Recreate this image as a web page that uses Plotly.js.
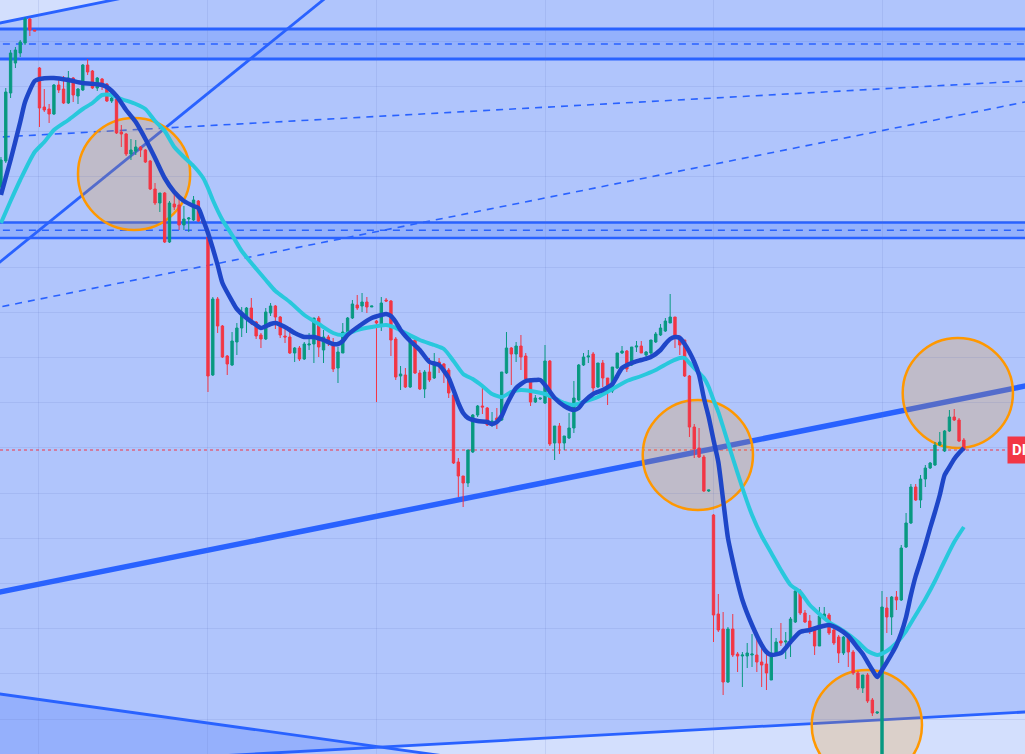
<!DOCTYPE html>
<html>
<head>
<meta charset="utf-8">
<script src="https://cdn.plot.ly/plotly-3.0.1.min.js"></script>
<style>
  html, body { margin: 0; padding: 0; overflow: hidden; background: #b0c5fc; }
</style>
</head>
<body>
<div id="chart" style="width:1025px;height:754px"></div>
<script>
// Candles (bar index = position in the arrays)
var opens = [567,593,661,691,701,711,735,724,686,647,645,640,669,665,651,676,658,664,689,683,
  666,675,670,653,655,622,620,600,603,607,604,593,565,551,561,512,550,549,529,535,
  534,553,533,517,379,455,428,398,389,412,426,437,446,432,419,415,441,448,437,418,
  417,401,406,395,409,410,436,404,417,411,386,401,422,436,449,448,452,447,433,429,
  454,453,415,378,379,367,414,381,365,382,376,392,390,384,359,292,278,271,302,339,
  348,346,329,336,334,381,406,400,408,398,375,352,355,351,393,311,328,311,316,326,
  354,389,397,400,367,391,376,363,386,401,403,389,407,408,399,401,412,419,423,431,
  437,416,414,378,327,306,297,263,239,140,125,72,125,100,98,98,99,99,92,90,
  74,101,113,112,114,132,163,141,133,126,108,137,139,124,117,101,117,102,81,66,
  79,54,41,-16,146,137,157,154,207,231,267,254,275,286,289,309,303,323,337,334,314];
var highs = [597,666,704,707,714,737,736,724,687,665,650,670,676,678,683,677,666,690,695,684,
  677,676,671,659,656,629,621,615,614,608,605,594,571,561,562,553,564,559,548,537,
  558,554,534,518,457,457,429,399,422,431,447,447,456,433,421,446,451,449,438,427,
  427,407,408,412,421,436,438,424,419,416,407,431,437,454,459,461,457,448,434,457,
  456,454,417,388,386,417,415,384,384,396,401,396,391,386,360,296,278,304,340,349,
  367,347,342,346,382,422,407,412,419,401,376,359,356,409,394,328,331,318,341,373,
  390,401,404,402,391,394,376,387,401,408,404,407,413,413,403,414,422,430,436,460,
  437,419,414,379,330,326,299,264,240,160,142,127,140,102,102,111,120,116,112,102,
  126,116,131,122,137,164,165,144,139,127,147,147,141,127,119,118,121,104,83,79,
  81,56,42,163,157,158,163,209,241,270,270,279,289,292,312,322,324,344,345,336,316];
var lows = [564,591,656,686,697,709,718,723,627,642,631,639,661,650,650,652,650,663,679,665,
  663,664,652,651,620,607,598,594,599,597,591,564,549,542,511,511,544,524,524,522,
  533,532,530,362,378,421,396,379,388,399,417,421,429,415,406,414,438,425,416,411,
  400,392,393,394,404,391,397,391,408,382,371,401,421,435,444,442,441,447,352,423,
  452,398,374,364,366,366,380,364,356,372,375,381,371,356,290,257,247,267,301,337,
  340,328,327,325,333,380,369,392,384,374,348,351,354,350,308,294,300,304,315,321,
  353,388,391,361,366,367,349,361,385,400,382,388,402,401,393,399,411,418,422,431,
  406,399,377,317,296,296,262,262,112,122,59,71,97,82,67,86,87,82,67,64,
  74,99,108,95,97,131,139,131,120,99,108,134,119,109,91,99,87,79,64,61,
  51,38,40,-21,121,119,144,153,206,230,253,246,267,285,288,308,302,322,333,312,303];
var closes = [594,662,701,704,712,735,724,723,646,644,640,669,664,651,676,659,665,689,682,666,
  676,669,653,656,621,620,600,604,607,604,592,565,551,561,512,551,547,529,535,536,
  554,533,531,378,455,428,397,390,413,426,442,446,431,418,415,442,448,437,419,417,
  401,406,395,410,410,436,407,417,411,385,402,422,436,450,446,452,447,448,431,451,
  453,414,377,380,367,414,381,365,382,374,392,389,382,361,291,278,271,304,339,348,
  347,329,333,334,382,406,400,408,397,375,352,356,356,393,310,328,311,318,326,356,
  389,397,398,366,391,376,363,387,401,403,385,407,408,401,402,414,420,426,433,437,
  416,409,378,327,305,297,263,264,139,124,72,125,99,98,99,101,100,92,89,81,
  101,112,111,113,135,163,141,132,123,108,138,140,121,111,101,117,102,81,66,79,
  53,41,42,147,137,157,154,206,231,267,254,275,286,291,309,312,323,337,334,313,304];

// Fast average (dark blue), read at selected bars
var fastBars = [0,2,4,5,7,8,11,14,17,21,22,24,26,28,30,32,34,36,38,40,
  41,42,43,45,46,48,49,51,53,54,56,57,59,61,63,65,67,69,70,71,
  72,75,77,79,80,81,82,83,84,85,87,89,91,93,94,95,96,97,99,101,
  102,103,104,105,107,109,111,112,113,115,117,119,120,121,123,125,127,128,129,131,
  133,135,137,138,139,140,141,142,143,144,145,146,147,148,149,150,151,152,153,154,
  156,158,159,160,162,163,164,166,168,170,172,174,176,178,179,180,181,182,183,185,
  186,187,188,189,190,191,192,193,194,195,196,197,198,199,200];
var fastVals = [559,594,632,652,673,675,676,674,671,669,667,658,644,632,615,596,576,562,553,548,
  546,534,521,489,471,453,445,436,429,426,430,431,427,421,417,417,414,410,410,413,
  419,430,436,439,440,438,432,424,418,413,404,392,389,376,364,351,341,336,333,332,
  330,332,338,349,366,373,374,374,369,356,348,344,346,352,360,364,370,378,386,391,
  394,397,404,410,415,417,416,410,402,392,379,356,337,314,292,254,216,193,172,154,
  129,109,102,99,101,106,112,122,124,127,129,125,118,106,100,92,84,77,84,100,
  109,121,137,159,178,193,209,226,242,259,279,287,295,301,306];

// Slow average (cyan)
var slowBars = [0,2,4,7,9,11,14,17,19,21,23,25,28,30,32,34,36,38,40,42,
  43,44,46,48,50,52,55,57,60,63,66,69,71,74,77,80,82,84,87,90,
  92,94,96,98,100,102,104,106,108,110,113,115,117,119,121,124,127,130,133,136,
  139,141,142,143,144,146,147,148,149,150,152,154,156,158,160,162,164,166,168,170,
  172,175,178,180,182,184,186,188,190,192,194,196,198,200];
var slowVals = [531,553,574,602,612,624,634,645,651,659,659,655,650,645,633,623,607,597,588,576,
  566,554,534,519,503,491,474,463,452,439,430,421,419,424,427,429,426,421,414,409,
  405,393,380,375,368,360,357,362,364,363,360,356,351,349,352,357,365,373,378,384,
  392,396,396,391,386,376,367,354,342,327,296,266,239,218,201,184,169,162,149,140,
  132,123,112,103,99,103,111,123,139,155,173,193,212,227];

var bars = Array.from({length: closes.length}, (_, i) => i);
var lastClose = closes[closes.length - 1];

var blue = '#2962ff';

function trend(x0, y0, x1, y1, width, dash) {
  return {
    type: 'line', xref: 'x', yref: 'y', layer: 'below',
    x0: x0, y0: y0, x1: x1, y1: y1,
    line: {color: blue, width: width, dash: dash || 'solid'},
  };
}

function zone(path, color) {
  return {type: 'path', xref: 'x', yref: 'y', layer: 'below',
    path: path, fillcolor: color, line: {width: 0}};
}

function band(lo, hi, edge) {
  var mid = (lo + hi) / 2;
  return [
    {type: 'rect', xref: 'x', yref: 'y', layer: 'below', x0: -5, x1: 215, y0: lo, y1: hi,
      fillcolor: 'rgba(41,98,255,0.2)', line: {width: 0}},
    trend(-5, hi, 215, hi, edge),
    trend(-5, lo, 215, lo, edge),
    trend(-5, mid, 215, mid, 1.6, '7px,6px'),
  ];
}

function ring(x0, x1, y0, y1) {
  return {type: 'circle', xref: 'x', yref: 'y', layer: 'below',
    x0: x0, x1: x1, y0: y0, y1: y1,
    fillcolor: 'rgba(255,152,0,0.2)', line: {color: '#ff9800', width: 2.5}};
}

var shapes = [
  zone('M -5,726.3 L 30,760.6 L -5,760.6 Z', '#d3dffd'),
  zone('M -5,63.2 L 78.8,6.9 L 30,-5.9 L -5,-10 Z', '#95b0fc'),
  zone('M 78.8,6.9 L 215,42.6 L 215,-10 L 100,-10 L 89.1,0 Z', '#d3dffd'),
].concat(band(695, 725, 3), band(516, 531.5, 2.5), [
  trend(-5, 726.3, 30, 760.6, 2.8),
  trend(-5, 473.3, 70, 766.1, 2.8),
  trend(-5, 615.7, 215, 673.6, 1.6, '7px,6px'),
  trend(-5, 442.4, 215, 654.2, 1.6, '7px,6px'),
  trend(-5, 157.4, 215, 370.2, 5.5),
  trend(-5, 63.2, 100, -7.3, 2.8),
  trend(40, -3.3, 215, 42.6, 2.8),
  ring(16.0, 39.3, 524, 636),
  ring(133.3, 156.2, 244, 354),
  ring(187.3, 210.2, 306, 416),
  ring(168.4, 191.3, -26, 84),
  {type: 'line', xref: 'paper', yref: 'y', layer: 'between', x0: 0, x1: 1,
    y0: lastClose, y1: lastClose, line: {color: '#f23645', width: 1, dash: 'dot'}},
]);

var candles = {
  type: 'candlestick',
  x: bars, open: opens, high: highs, low: lows, close: closes,
  increasing: {line: {color: '#089981', width: 1}, fillcolor: '#089981'},
  decreasing: {line: {color: '#f23645', width: 1}, fillcolor: '#f23645'},
  whiskerwidth: 0,
  hoverinfo: 'skip',
};

var slow = {
  type: 'scatter', mode: 'lines', x: slowBars, y: slowVals,
  line: {color: '#28c8dc', width: 4, shape: 'spline', smoothing: 0.6},
  hoverinfo: 'skip',
};

var fast = {
  type: 'scatter', mode: 'lines', x: fastBars, y: fastVals,
  line: {color: '#1e46c8', width: 4.5, shape: 'spline', smoothing: 0.6},
  hoverinfo: 'skip',
};

var layout = {
  width: 1025,
  height: 754,
  margin: {l: 0, r: 0, t: 0, b: 0},
  paper_bgcolor: '#b0c5fc',
  plot_bgcolor: '#b0c5fc',
  showlegend: false,
  boxgap: 0.3,
  xaxis: {
    range: [-0.2, 212.7],
    showticklabels: false, ticks: '', zeroline: false,
    showgrid: true, gridcolor: 'rgba(90,110,190,0.14)', gridwidth: 1,
    tick0: 7.7, dtick: 35.1,
    rangeslider: {visible: false},
    fixedrange: true,
  },
  yaxis: {
    range: [0, 754],
    showticklabels: false, ticks: '', zeroline: false,
    showgrid: true, gridcolor: 'rgba(90,110,190,0.14)', gridwidth: 1,
    tick0: 35, dtick: 45.19,
    fixedrange: true,
  },
  shapes: shapes,
  annotations: [{
    xref: 'paper', yref: 'y', x: 0.9825, y: lastClose,
    xanchor: 'left', yanchor: 'middle',
    text: '<b>DI</b>', showarrow: false,
    font: {family: 'Roboto', size: 15, color: '#ffffff'},
    bgcolor: '#f23645', borderpad: 4,
  }],
};

Plotly.newPlot('chart', [candles, slow, fast], layout, {staticPlot: true, displayModeBar: false});
</script>
</body>
</html>
